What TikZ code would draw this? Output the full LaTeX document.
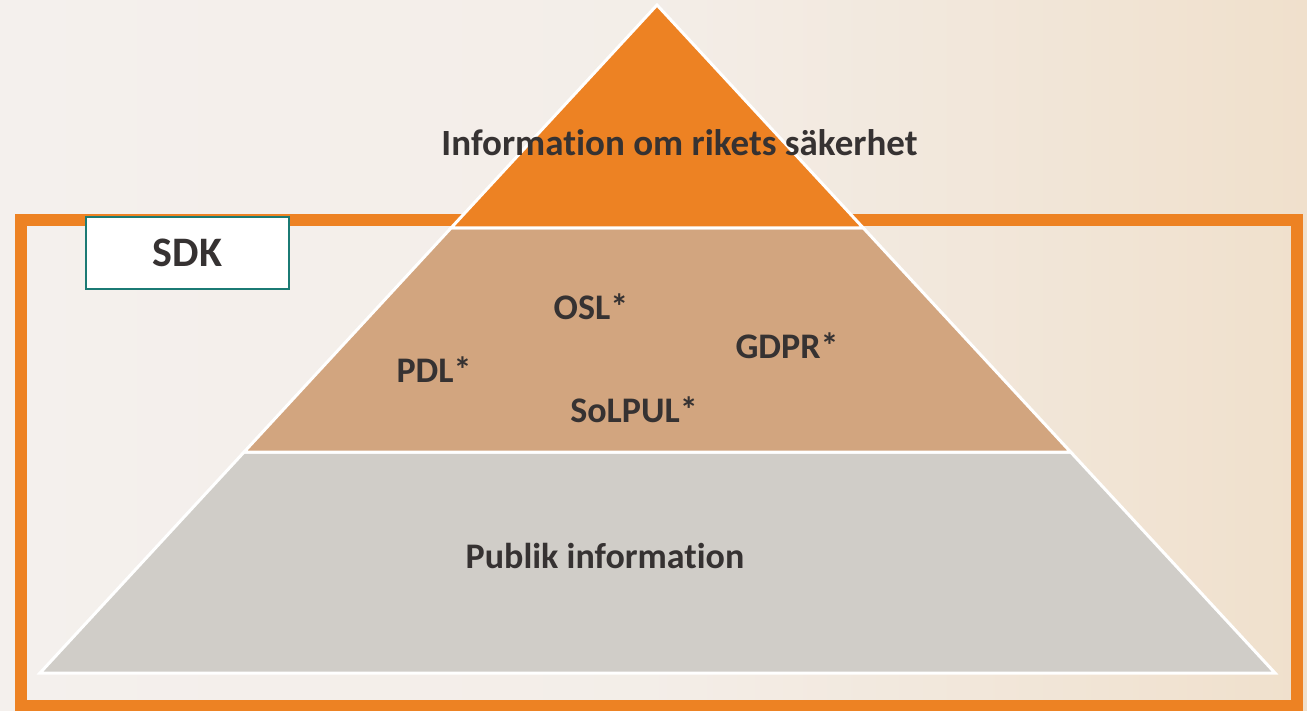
\documentclass[tikz,border=0pt]{standalone}
\usepackage{fontspec}
\setmainfont{Carlito}[Ligatures=NoCommon]
\usepackage{tikz}

\definecolor{sdkorange}{HTML}{ED8223}
\definecolor{sdktan}{HTML}{D2A57F}
\definecolor{sdkgray}{HTML}{D0CDC8}
\definecolor{sdkteal}{HTML}{1B7A74}
\definecolor{sdktext}{HTML}{363232}
\definecolor{bgleft}{HTML}{F4F0ED}
\definecolor{bgright}{HTML}{F0E0CC}

\tikzset{
  tier/.style={draw=white, line width=3pt, line join=miter},
  label/.style={font=\bfseries\fontsize{36}{42}\selectfont, text=sdktext},
}

\begin{document}
\begin{tikzpicture}[x=1pt, y=-1pt]
			\useasboundingbox (0,0) rectangle (1307,711);
			\shade[left color=bgleft, right color=bgright, middle color=bgleft!85!bgright] (0,0) rectangle (1307,711);
			% frame
			\draw[sdkorange, line width=12pt] (21,220.5) rectangle (1297,706);
			% pyramid tiers
			\fill[sdkgray, tier] (40,673) -- (1275,673) -- (1070.6,452) -- (244.1,452) -- cycle;
			\fill[sdktan, tier] (244.1,452) -- (1070.6,452) -- (863.3,228) -- (451,228) -- cycle;
			\fill[sdkorange, tier] (451,228) -- (863.3,228) -- (657,5) -- cycle;
			% box
			\node[draw=sdkteal, fill=white, line width=1.5pt, minimum width=203pt, minimum height=72pt, label, font=\bfseries\fontsize{42}{48}\selectfont] (sdk) at (187.5,253) {SDK};
			% texts
			\node[label, font=\bfseries\fontsize{37}{42}\selectfont] (rikets) at (679.5,143) {Information om rikets säkerhet};
			\node[label] (osl) at (591,307) {OSL*};
			\node[label] (pdl) at (434,370) {PDL*};
			\node[label] (gdpr) at (787,346) {GDPR*};
			\node[label] (solpul) at (634,410) {SoLPUL*};
			\node[label] (publik) at (605,556) {Publik information};
		\end{tikzpicture}
\end{document}
